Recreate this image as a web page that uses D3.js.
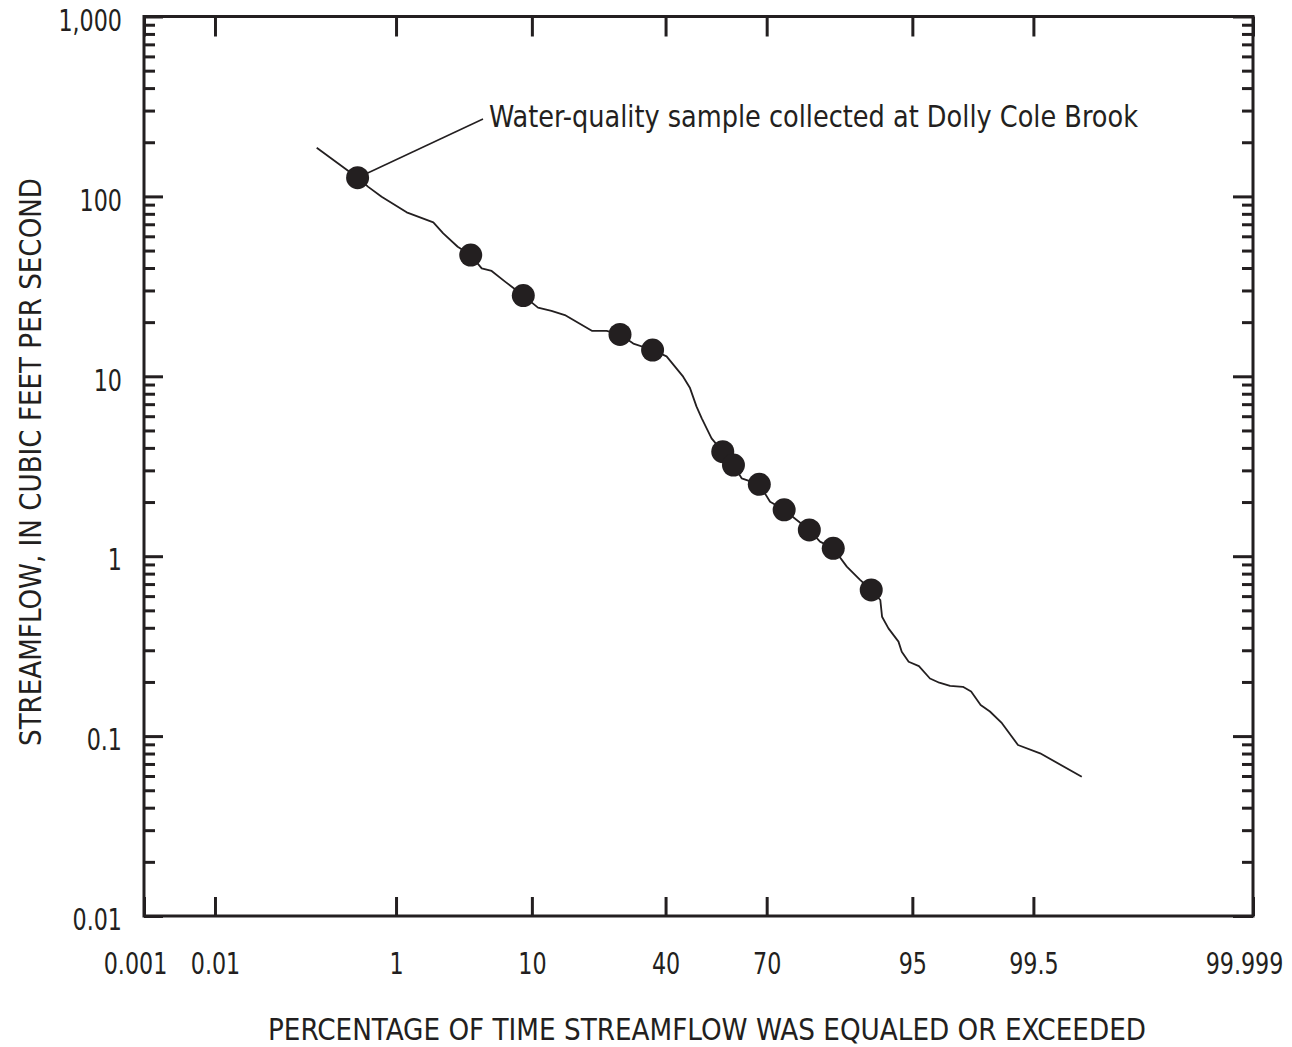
<!DOCTYPE html>
<html>
<head>
<meta charset="utf-8">
<script src="https://cdn.jsdelivr.net/npm/d3@7/dist/d3.min.js"></script>
<style>
  html, body { margin: 0; padding: 0; background: #ffffff; }
  svg { display: block; }
  .lbl { font-family: "Liberation Sans Narrow", "Arial Narrow", "DejaVu Sans Condensed", sans-serif; fill: #231f20; }
</style>
</head>
<body>
<svg id="chart" width="1292" height="1047"></svg>
<script>
// ---------------- DATA ----------------
// Flow-duration curve: percentage of time exceeded (%) and streamflow (ft3/s)
const curvePct = [0.166, 0.437, 0.554, 0.74, 1.24, 2.07, 2.48, 3.2, 3.99, 4.77, 5.58, 6.84, 8.89,
  10.85, 12.9, 15.2, 20.6, 24.0, 27.3, 30.8, 36.2, 40.3, 45.3, 47.4, 49.4, 51.0, 54.0, 57.4, 60.6,
  63.0, 68.0, 70.9, 74.5, 77.5, 80.3, 82.5, 85.0, 87.3, 89.3, 90.8, 91.9, 92.1, 92.8, 93.8, 94.1,
  94.7, 95.5, 96.25, 96.8, 97.35, 97.9, 98.2, 98.5, 98.75, 99.02, 99.3, 99.57, 99.84];
const curveFlow = [186.6, 127, 113, 99.6, 81.6, 71.8, 62.3, 52.5, 47.2, 39.8, 38.5, 33.6, 28.1,
  24.1, 23.1, 21.9, 17.9, 17.9, 17.1, 15.2, 14.0, 12.9, 9.95, 8.6, 6.78, 5.84, 4.52, 3.81, 3.21,
  2.71, 2.51, 2.01, 1.81, 1.59, 1.40, 1.205, 1.107, 0.875, 0.738, 0.649, 0.571, 0.461, 0.397, 0.335, 0.294,
  0.259, 0.245, 0.209, 0.198, 0.190, 0.188, 0.177, 0.149, 0.137, 0.118, 0.0892, 0.0802, 0.0595];

// Water-quality samples collected at Dolly Cole Brook
const samplePct  = [0.437, 3.99, 8.89, 27.3, 36.2, 57.4, 60.6, 68.0, 74.5, 80.3, 85.0, 90.8];
const sampleFlow = [127, 47.2, 28.1, 17.1, 14.0, 3.81, 3.21, 2.51, 1.81, 1.40, 1.107, 0.649];

// Axis ticks
const xTickPct    = [0.001, 0.01, 1, 10, 40, 70, 95, 99.5, 99.999];
const xTickLabels = ["0.001", "0.01", "1", "10", "40", "70", "95", "99.5", "99.999"];
const yMajor       = [0.01, 0.1, 1, 10, 100, 1000];
const yMajorLabels = ["0.01", "0.1", "1", "10", "100", "1,000"];

const xTitle = "PERCENTAGE OF TIME STREAMFLOW WAS EQUALED OR EXCEEDED";
const yTitle = "STREAMFLOW, IN CUBIC FEET PER SECOND";
const noteText = "Water-quality sample collected at Dolly Cole Brook";

// ---------------- HELPERS ----------------
// Inverse standard normal CDF (Acklam's approximation) for the probability axis
function qnorm(p) {
  const a = [-3.969683028665376e+01, 2.209460984245205e+02, -2.759285104469687e+02, 1.383577518672690e+02, -3.066479806614716e+01, 2.506628277459239e+00];
  const b = [-5.447609879822406e+01, 1.615858368580409e+02, -1.556989798598866e+02, 6.680131188771972e+01, -1.328068155288572e+01];
  const c = [-7.784894002430293e-03, -3.223964580411365e-01, -2.400758277161838e+00, -2.549732539343734e+00, 4.374664141464968e+00, 2.938163982698783e+00];
  const d = [7.784695709041462e-03, 3.224671290700398e-01, 2.445134137142996e+00, 3.754408661907416e+00];
  const pl = 0.02425, ph = 1 - pl;
  let q, r;
  if (p < pl) {
    q = Math.sqrt(-2 * Math.log(p));
    return (((((c[0]*q+c[1])*q+c[2])*q+c[3])*q+c[4])*q+c[5]) / ((((d[0]*q+d[1])*q+d[2])*q+d[3])*q+1);
  }
  if (p > ph) {
    q = Math.sqrt(-2 * Math.log(1 - p));
    return -(((((c[0]*q+c[1])*q+c[2])*q+c[3])*q+c[4])*q+c[5]) / ((((d[0]*q+d[1])*q+d[2])*q+d[3])*q+1);
  }
  q = p - 0.5; r = q * q;
  return (((((a[0]*r+a[1])*r+a[2])*r+a[3])*r+a[4])*r+a[5])*q / (((((b[0]*r+b[1])*r+b[2])*r+b[3])*r+b[4])*r+1);
}

// Fit a text to an exact length (narrow typeface look)
function fitLength(sel, target) {
  sel.attr("textLength", target).attr("lengthAdjust", "spacingAndGlyphs");
}
// Horizontally condense tick labels about their anchor point
function condenseAbout(sel, factor, anchorX) {
  sel.attr("transform", (d, i) => {
    const ax = anchorX(d, i);
    return `translate(${ax},0) scale(${factor},1) translate(${-ax},0)`;
  });
}

// ---------------- LAYOUT ----------------
const INK = "#231f20";
const L = 144, R = 1253, T = 16.5, B = 916;
const svg = d3.select("#chart");

const zScale = d3.scaleLinear()
  .domain([qnorm(xTickPct[0] / 100), qnorm(xTickPct[xTickPct.length - 1] / 100)])
  .range([L, R]);
const x = p => zScale(qnorm(p / 100));
const y = d3.scaleLog().domain([0.01, 1000]).range([B, T]);

// minor ticks 2..9 per decade
const yMinor = [];
for (let e = -2; e < 3; e++) for (let m = 2; m <= 9; m++) yMinor.push(m * Math.pow(10, e));

const xTickZ = xTickPct.map(p => qnorm(p / 100));

function styleAxis(g) {
  g.select(".domain").remove();
  g.selectAll(".tick line").attr("stroke", INK).attr("stroke-width", 3);
  g.selectAll(".tick text").attr("class", "lbl").attr("font-size", 30.5).attr("fill", INK);
}

// Bottom axis
const edgeShift = (d, i) => (i === 0 || i === xTickZ.length - 1) ? -9 : 0;
svg.append("g").attr("transform", `translate(0,${B})`)
  .call(d3.axisBottom(zScale).tickValues(xTickZ).tickSize(-19).tickPadding(36)
    .tickFormat((d, i) => xTickLabels[i]))
  .call(styleAxis)
  .call(g => g.selectAll(".tick text").attr("x", edgeShift))
  .call(g => condenseAbout(g.selectAll(".tick text"), 0.81, edgeShift));

// Top axis
svg.append("g").attr("transform", `translate(0,${T})`)
  .call(d3.axisTop(zScale).tickValues(xTickZ).tickSize(-20).tickFormat(""))
  .call(styleAxis);

// Left axis: minor then major with labels
svg.append("g").attr("transform", `translate(${L},0)`)
  .call(d3.axisLeft(y).tickValues(yMinor).tickSize(-11).tickFormat(""))
  .call(styleAxis);
svg.append("g").attr("transform", `translate(${L},0)`)
  .call(d3.axisLeft(y).tickValues(yMajor).tickSize(-19).tickPadding(22)
    .tickFormat((d, i) => yMajorLabels[i]))
  .call(styleAxis)
  .call(g => g.selectAll(".tick text").attr("dy", "0.45em"))
  .call(g => condenseAbout(g.selectAll(".tick text"), 0.81, () => -22));

// Right axis
svg.append("g").attr("transform", `translate(${R},0)`)
  .call(d3.axisRight(y).tickValues(yMinor).tickSize(-11).tickFormat(""))
  .call(styleAxis);
svg.append("g").attr("transform", `translate(${R},0)`)
  .call(d3.axisRight(y).tickValues(yMajor).tickSize(-20).tickFormat(""))
  .call(styleAxis);

// Frame
svg.append("rect").attr("x", L).attr("y", T).attr("width", R - L).attr("height", B - T)
  .attr("fill", "none").attr("stroke", INK).attr("stroke-width", 3);

// Duration curve
const curve = curvePct.map((p, i) => ({ p, q: curveFlow[i] }));
svg.append("path").datum(curve)
  .attr("d", d3.line().x(d => x(d.p)).y(d => y(d.q)))
  .attr("fill", "none").attr("stroke", INK).attr("stroke-width", 1.8).attr("stroke-linejoin", "round");

// Annotation leader line and text
const noteX = 489, noteY = 127;
svg.append("line")
  .attr("x1", x(samplePct[0])).attr("y1", y(sampleFlow[0]))
  .attr("x2", noteX - 6).attr("y2", noteY - 8)
  .attr("stroke", INK).attr("stroke-width", 1.5);
svg.append("text").attr("class", "lbl").attr("x", noteX).attr("y", noteY)
  .attr("font-size", 31).text(noteText)
  .call(t => fitLength(t, 649));

// Sample markers
const samples = samplePct.map((p, i) => ({ p, q: sampleFlow[i] }));
svg.append("g").selectAll("circle").data(samples).join("circle")
  .attr("cx", d => x(d.p)).attr("cy", d => y(d.q)).attr("r", 11.5).attr("fill", INK);

// Axis titles
svg.append("text").attr("class", "lbl").attr("x", 707).attr("y", 1040)
  .attr("text-anchor", "middle").attr("font-size", 31).text(xTitle)
  .call(t => fitLength(t, 878));
svg.append("text").attr("class", "lbl")
  .attr("transform", "translate(41,462) rotate(-90)")
  .attr("text-anchor", "middle").attr("font-size", 31).text(yTitle)
  .call(t => fitLength(t, 568));
</script>
</body>
</html>
